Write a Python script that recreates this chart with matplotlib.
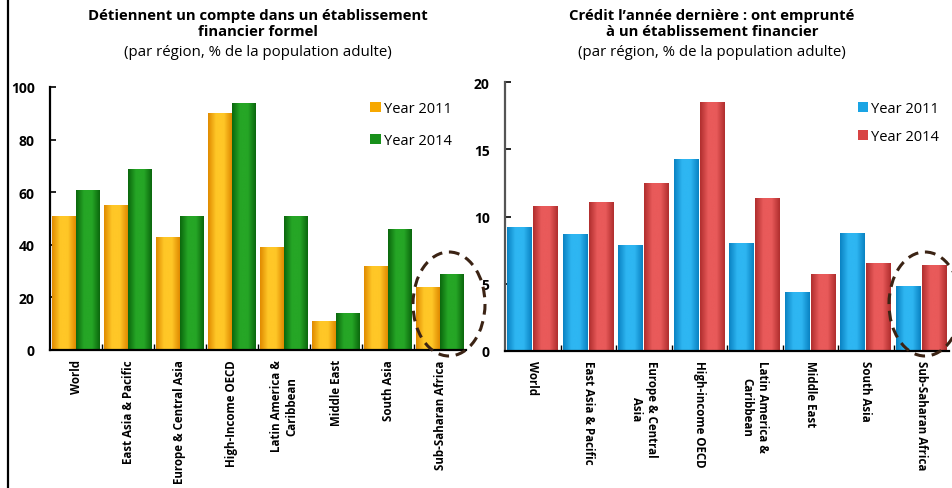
import numpy as np
import matplotlib
matplotlib.use("Agg")
import matplotlib.pyplot as plt
from matplotlib.patches import Ellipse
from matplotlib.lines import Line2D
from matplotlib.colors import LinearSegmentedColormap

plt.rcParams['font.family'] = ['Open Sans', 'DejaVu Sans']

# data
regions_left = ['World', 'East Asia & Pacific', 'Europe & Central Asia', 'High-Income OECD',
                'Latin America &\nCaribbean', 'Middle East', 'South Asia', 'Sub-Saharan Africa']
regions_right = ['World', 'East Asia & Pacific', 'Europe & Central\nAsia', 'High-income OECD',
                 'Latin America &\nCaribbean', 'Middle East', 'South Asia', 'Sub-Saharan Africa']
account_2011 = [51, 55, 43, 90, 39, 11, 32, 24]
account_2014 = [61, 69, 51, 94, 51, 14, 46, 29]
credit_2011 = [9.2, 8.7, 7.9, 14.3, 8.0, 4.4, 8.8, 4.8]
credit_2014 = [10.8, 11.1, 12.5, 18.5, 11.4, 5.7, 6.5, 6.4]

W, H = 952, 489
fig = plt.figure(figsize=(W / 100, H / 100), dpi=100)


def px_axes(x0, x1, ytop, ybot):
    return fig.add_axes([x0 / W, 1 - ybot / H, (x1 - x0) / W, (ybot - ytop) / H])


def shade(ax, bars, edge, mid):
    # cylinder-ish look: dark edges, bright middle
    cmap = LinearSegmentedColormap.from_list('c', [edge, mid, mid, edge])
    grad = np.linspace(0, 1, 64).reshape(1, -1)
    for b in bars:
        x0, w, h = b.get_x(), b.get_width(), b.get_height()
        im = ax.imshow(grad, cmap=cmap, extent=(x0, x0 + w, 0, h), aspect='auto',
                       interpolation='bicubic', zorder=2)
        im.set_clip_path(b)


def style(ax, ymax, ystep, spine_col):
    for s in ['top', 'right']:
        ax.spines[s].set_visible(False)
    ax.spines['left'].set_color(spine_col)
    ax.spines['left'].set_linewidth(1.6)
    ax.spines['bottom'].set_linewidth(1.6)
    ax.set_xlim(-0.5, 7.5)
    ax.set_ylim(0, ymax)
    ax.set_yticks(np.arange(0, ymax + 1, ystep))
    ax.set_xticks(np.arange(0.5, 7.5, 1), minor=False)
    ax.tick_params(axis='y', direction='in', length=4, width=1.2, pad=11, labelsize=10)
    ax.tick_params(axis='x', direction='in', length=4, width=1.0, labelbottom=False)
    for t in ax.get_yticklabels():
        t.set_fontweight('bold')


idx = np.arange(len(regions_left))

# ---- left chart
axl = px_axes(50, 466, 88, 351)
b1 = axl.bar(idx - 0.235, account_2011, 0.46, color='#F7A800', label='Year 2011', zorder=1)
b2 = axl.bar(idx + 0.235, account_2014, 0.46, color='#18901A', label='Year 2014', zorder=1)
shade(axl, b1, '#E08A00', '#FFC727')
shade(axl, b2, '#0B670D', '#26A626')
style(axl, 100, 20, 'black')
for i, lab in enumerate(regions_left):
    axl.text(i, -3.5, lab, rotation=90, ha='center', va='top', fontsize=8.3,
             fontweight='bold', multialignment='center')
axl.legend(loc='upper left', bbox_to_anchor=(0.77, 0.945), frameon=False, fontsize=10.5,
           handlelength=0.7, handleheight=0.7, handletextpad=0.25, labelspacing=1.15,
           borderpad=0, borderaxespad=0)

# ---- right chart
axr = px_axes(505, 949, 83.3, 351.7)
b3 = axr.bar(idx - 0.23, credit_2011, 0.45, color='#1AA4E4', label='Year 2011', zorder=1)
b4 = axr.bar(idx + 0.23, credit_2014, 0.45, color='#D84444', label='Year 2014', zorder=1)
shade(axr, b3, '#0A82C2', '#2EB6F2')
shade(axr, b4, '#B02E2E', '#E95A5A')
style(axr, 20, 5, '#555555')
for i, lab in enumerate(regions_right):
    axr.text(i, -0.7, lab, rotation=-90, ha='center', va='top', fontsize=8.3,
             fontweight='bold', multialignment='center')
axr.legend(loc='upper left', bbox_to_anchor=(0.795, 0.93), frameon=False, fontsize=10.5,
           handlelength=0.7, handleheight=0.7, handletextpad=0.2, labelspacing=0.9,
           borderpad=0, borderaxespad=0)

# ---- titles
fig.text(258 / W, 1 - 24 / H, 'Détiennent un compte dans un établissement\nfinancier formel',
         ha='center', va='center', fontsize=10.7, fontweight='bold', linespacing=1.1)
fig.text(258 / W, 1 - 53 / H, '(par région, % de la population adulte)',
         ha='center', va='center', fontsize=10.8)
fig.text(712 / W, 1 - 24 / H, "Crédit l’année dernière : ont emprunté\nà un établissement financier",
         ha='center', va='center', fontsize=10.7, fontweight='bold', linespacing=1.1)
fig.text(712 / W, 1 - 53 / H, '(par région, % de la population adulte)',
         ha='center', va='center', fontsize=10.8)

# ---- overlay: border line and dashed circles around Sub-Saharan Africa
ov = fig.add_axes([0, 0, 1, 1], zorder=10)
ov.set_xlim(0, W)
ov.set_ylim(H, 0)
ov.axis('off')
ov.patch.set_alpha(0)
ov.add_line(Line2D([8, 8], [0, H], color='black', lw=1.6))
for cx in [449, 925]:
    ov.add_patch(Ellipse((cx, 305), 72, 104, fill=False, ec='#3B2314', lw=2.2,
                         linestyle=(0, (3.5, 2.2)), clip_on=False))

fig.savefig('out.png', dpi=100)
